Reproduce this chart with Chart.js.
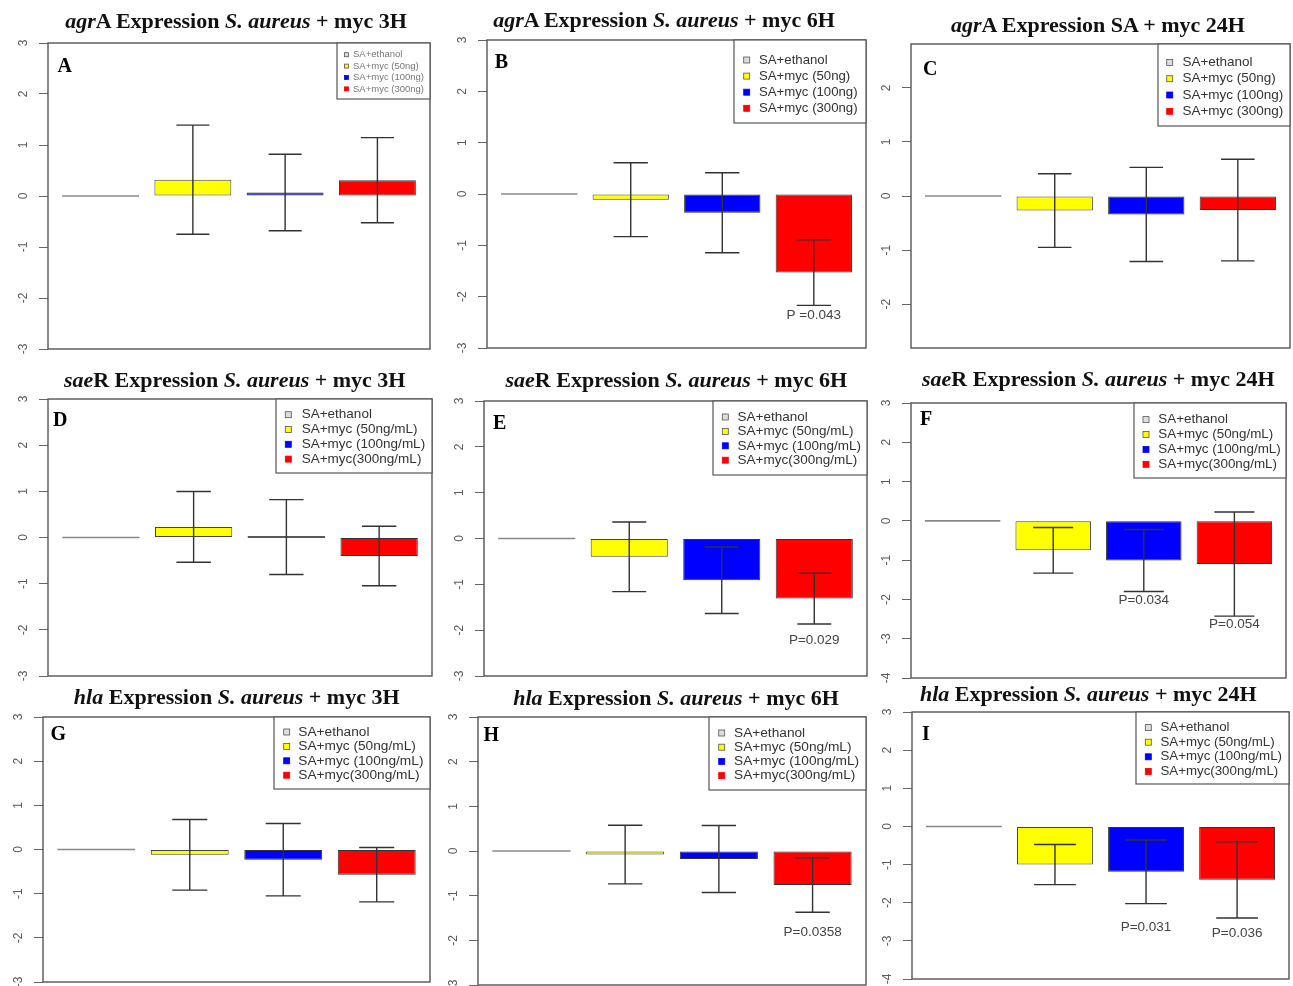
<!DOCTYPE html>
<html><head><meta charset="utf-8">
<script src="https://cdn.jsdelivr.net/npm/chart.js@4.4.0/dist/chart.umd.min.js"></script>
<style>
html,body{margin:0;padding:0;background:#fff;}
body{width:1293px;height:986px;position:relative;overflow:hidden;}
canvas{position:absolute;}
.title{position:absolute;width:600px;text-align:center;font:bold 22px/22px "Liberation Serif","Times New Roman",serif;color:#111;white-space:nowrap;}
</style></head><body>
<script>
// ---------- data ----------
const labelsNg = ["SA+ethanol", "SA+myc (50ng)", "SA+myc (100ng)", "SA+myc (300ng)"];
const labelsMl = ["SA+ethanol", "SA+myc (50ng/mL)", "SA+myc (100ng/mL)", "SA+myc(300ng/mL)"];
const barColors = ["#ffffff", "#ffff00", "#0000ff", "#ff0000"];

const titleA = "<i>agr</i>A Expression <i>S. aureus</i> + myc 3H";
const titleB = "<i>agr</i>A Expression <i>S. aureus</i> + myc 6H";
const titleC = "<i>agr</i>A Expression SA + myc 24H";
const titleD = "<i>sae</i>R Expression <i>S. aureus</i> + myc 3H";
const titleE = "<i>sae</i>R Expression <i>S. aureus</i> + myc 6H";
const titleF = "<i>sae</i>R Expression <i>S. aureus</i> + myc 24H";
const titleG = "<i>hla</i> Expression <i>S. aureus</i> + myc 3H";
const titleH = "<i>hla</i> Expression <i>S. aureus</i> + myc 6H";
const titleI = "<i>hla</i> Expression <i>S. aureus</i> + myc 24H";

const agrA3H  = [0, 0.32, 0.07, 0.31];   const agrA3H_sd  = [0, 1.07, 0.75, 0.835];
const agrA6H  = [0, -0.11, -0.365, -1.53]; const agrA6H_sd = [0, 0.72, 0.78, 0.64];
const agrA24H = [0, -0.27, -0.34, -0.26]; const agrA24H_sd = [0, 0.68, 0.87, 0.94];
const saeR3H  = [0, 0.23, 0.01, -0.40];  const saeR3H_sd  = [0, 0.765, 0.81, 0.645];
const saeR6H  = [0, -0.40, -0.91, -1.31]; const saeR6H_sd = [0, 0.76, 0.725, 0.555];
const saeR24H = [0, -0.75, -1.01, -1.10]; const saeR24H_sd = [0, 0.58, 0.79, 1.325];
const hla3H   = [0, -0.12, -0.23, -0.57]; const hla3H_sd   = [0, 0.80, 0.82, 0.615];
const hla6H   = [0, -0.08, -0.18, -0.76]; const hla6H_sd   = [0, 0.655, 0.75, 0.61];
const hla24H  = [0, -1.00, -1.19, -1.40]; const hla24H_sd  = [0, 0.525, 0.835, 1.0];

const pNone = [null, null, null, null];
const pB = [null, null, null, "P =0.043"];
const pE = [null, null, null, "P=0.029"];
const pF = [null, null, "P=0.034", "P=0.054"];
const pH = [null, null, null, "P=0.0358"];
const pI = [null, null, "P=0.031", "P=0.036"];

// ---------- panels (layout/style) ----------
const panels = [
  {letter:"A", title:titleA, tx:236, tb:28.3, frame:[48,43,430,349], ymin:-3, ymax:3, values:agrA3H, sd:agrA3H_sd, labels:labelsNg, pvals:pNone, pOff:[0,0,0,0], cap:0.43,
   leg:{w:93,h:56,fs:9.5,y0:11.7,dy:11.4,mx:9.4,tx:16,ms:4,col:"#777"}, lx:9.5, ly:23.7},
  {letter:"B", title:titleB, tx:664, tb:27.5, frame:[487,40,866,348], ymin:-3, ymax:3, values:agrA6H, sd:agrA6H_sd, labels:labelsNg, pvals:pB, pOff:[0,0,0,9.5], cap:0.45,
   leg:{w:132,h:83,fs:13.2,y0:20,dy:16.1,mx:12.7,tx:25,ms:6,col:"#333"}, lx:7.7, ly:22.7},
  {letter:"C", title:titleC, tx:1098, tb:32.3, frame:[911,44,1290,348], ymin:-2.81, ymax:2.81, values:agrA24H, sd:agrA24H_sd, labels:labelsNg, pvals:pNone, pOff:[0,0,0,0], cap:0.44,
   leg:{w:132,h:82,fs:13.5,y0:18.4,dy:16.3,mx:11.7,tx:24.4,ms:6,col:"#333"}, lx:12, ly:25.7},
  {letter:"D", title:titleD, tx:234.7, tb:387.3, frame:[48,399,432,676], ymin:-3, ymax:3, values:saeR3H, sd:saeR3H_sd, labels:labelsMl, pvals:pNone, pOff:[0,0,0,0], cap:0.445,
   leg:{w:156,h:74,fs:13.5,y0:15.7,dy:14.8,mx:12.3,tx:25.7,ms:6,col:"#333"}, lx:5, ly:22.3},
  {letter:"E", title:titleE, tx:676.3, tb:387.3, frame:[484,401,867,676], ymin:-3, ymax:3, values:saeR6H, sd:saeR6H_sd, labels:labelsMl, pvals:pE, pOff:[0,0,0,16.7], cap:0.44,
   leg:{w:154,h:74,fs:13.5,y0:16,dy:14.4,mx:12.3,tx:24.6,ms:6,col:"#333"}, lx:9, ly:22.6},
  {letter:"F", title:titleF, tx:1098.3, tb:386.7, frame:[911,403,1286,678], ymin:-4, ymax:3, values:saeR24H, sd:saeR24H_sd, labels:labelsMl, pvals:pF, pOff:[0,0,8.4,8.4], cap:0.53,
   leg:{w:152,h:75,fs:13.4,y0:16.6,dy:14.9,mx:12,tx:24.3,ms:6,col:"#333"}, lx:9, ly:17.3},
  {letter:"G", title:titleG, tx:236.7, tb:704.3, frame:[43,717,430,982], ymin:-3, ymax:3, values:hla3H, sd:hla3H_sd, labels:labelsMl, pvals:pNone, pOff:[0,0,0,0], cap:0.45,
   leg:{w:156,h:72,fs:13.7,y0:15,dy:14.4,mx:12.7,tx:24.3,ms:6,col:"#333"}, lx:7.4, ly:17.6},
  {letter:"H", title:titleH, tx:676, tb:705, frame:[478,717,866,985], ymin:-3, ymax:3, values:hla6H, sd:hla6H_sd, labels:labelsMl, pvals:pH, pOff:[0,0,0,20.4], cap:0.44,
   leg:{w:157,h:73,fs:13.7,y0:16,dy:14.2,mx:12.7,tx:25,ms:6,col:"#333"}, lx:5.6, ly:18.7},
  {letter:"I", title:titleI, tx:1088.3, tb:701, frame:[912,712,1289,979], ymin:-4, ymax:3, values:hla24H, sd:hla24H_sd, labels:labelsMl, pvals:pI, pOff:[0,0,23.6,15.7], cap:0.55,
   leg:{w:153,h:72,fs:13.3,y0:15.6,dy:14.6,mx:12.3,tx:24.4,ms:6,col:"#333"}, lx:10, ly:22.6}
];

const SANS = "'Liberation Sans', Arial, sans-serif";
const SERIF = "'Liberation Serif', 'Times New Roman', serif";

function makePanel(p) {
  const AX = 46, PT = 16, PR = 6, PB = 16;
  const [l, t, r, b] = p.frame;
  const W = AX + (r - l) + PR, H = PT + (b - t) + PB;
  const cv = document.createElement("canvas");
  cv.width = W; cv.height = H;
  cv.style.left = (l - AX) + "px"; cv.style.top = (t - PT) + "px";
  cv.style.width = W + "px"; cv.style.height = H + "px";
  document.body.appendChild(cv);

  const tdiv = document.createElement("div");
  tdiv.className = "title";
  tdiv.innerHTML = p.title;
  tdiv.style.left = (p.tx - 300) + "px";
  tdiv.style.top = (p.tb - 18.4) + "px";
  document.body.appendChild(tdiv);

  const plugin = {
    id: "rpanel",
    afterDatasetsDraw(chart) {
      const ctx = chart.ctx, ys = chart.scales.y, meta = chart.getDatasetMeta(0);
      ctx.save();
      meta.data.forEach((bar, i) => {
        const w = bar.width;
        if (Math.abs(bar.base - bar.y) < 1.5) {
          ctx.strokeStyle = i === 0 ? "#888" : "#222";
          ctx.lineWidth = 1.6;
          ctx.beginPath(); ctx.moveTo(bar.x - w / 2, bar.y); ctx.lineTo(bar.x + w / 2, bar.y); ctx.stroke();
        }
        const e = p.sd[i];
        if (!e) return;
        const yT = ys.getPixelForValue(p.values[i] + e), yB = ys.getPixelForValue(p.values[i] - e);
        const cw = w * p.cap / 2;
        ctx.strokeStyle = "#333"; ctx.lineWidth = 1.4;
        ctx.beginPath();
        ctx.moveTo(bar.x, yT); ctx.lineTo(bar.x, yB);
        ctx.moveTo(bar.x - cw, yT); ctx.lineTo(bar.x + cw, yT);
        ctx.moveTo(bar.x - cw, yB); ctx.lineTo(bar.x + cw, yB);
        ctx.stroke();
        if (p.pvals[i]) {
          ctx.fillStyle = "#444"; ctx.font = "13.5px " + SANS;
          ctx.textAlign = "center"; ctx.textBaseline = "middle";
          ctx.fillText(p.pvals[i], bar.x, yB + p.pOff[i]);
        }
      });
      ctx.restore();
    },
    afterDraw(chart) {
      const ctx = chart.ctx, a = chart.chartArea;
      ctx.save();
      ctx.strokeStyle = "#555"; ctx.lineWidth = 1.4;
      ctx.strokeRect(a.left, a.top, a.right - a.left, a.bottom - a.top);
      // panel letter
      ctx.fillStyle = "#000"; ctx.font = "bold 20px " + SERIF;
      ctx.textAlign = "left"; ctx.textBaseline = "middle";
      ctx.fillText(p.letter, a.left + p.lx, a.top + p.ly);
      // legend
      const g = p.leg, bx = a.right - g.w, by = a.top;
      ctx.fillStyle = "#fff"; ctx.fillRect(bx, by, g.w, g.h);
      ctx.strokeStyle = "#555"; ctx.lineWidth = 1.2;
      ctx.strokeRect(bx, by, g.w, g.h);
      ctx.font = g.fs + "px " + SANS; ctx.textBaseline = "middle"; ctx.textAlign = "left";
      p.labels.forEach((lab, i) => {
        const cy = by + g.y0 + i * g.dy, cx = bx + g.mx;
        ctx.fillStyle = i === 0 ? "#ddd" : barColors[i];
        ctx.fillRect(cx - g.ms / 2, cy - g.ms / 2, g.ms, g.ms);
        ctx.strokeStyle = i < 2 ? "#555" : barColors[i]; ctx.lineWidth = 0.8;
        ctx.strokeRect(cx - g.ms / 2, cy - g.ms / 2, g.ms, g.ms);
        ctx.fillStyle = g.col;
        ctx.fillText(lab, bx + g.tx, cy);
      });
      ctx.restore();
    }
  };

  new Chart(cv, {
    type: "bar",
    data: {
      datasets: [{
        label: p.letter,
        data: p.values.map((v, i) => ({ x: i, y: v })),
        backgroundColor: barColors,
        borderColor: ["#888", "#444", "#333", "#333"],
        borderWidth: 1,
        borderSkipped: false,
        barPercentage: 1 / 1.2,
        categoryPercentage: 1
      }]
    },
    options: {
      responsive: false, animation: false, devicePixelRatio: 1,
      layout: { padding: { left: 0, top: PT, right: PR, bottom: PB }, autoPadding: false },
      plugins: { legend: { display: false }, tooltip: { enabled: false } },
      scales: {
        x: { type: "linear", min: -0.57, max: 3.57, offset: false, grid: { offset: false }, display: false,
             ticks: { stepSize: 1, includeBounds: false } },
        y: {
          min: p.ymin, max: p.ymax,
          ticks: { stepSize: 1, includeBounds: false, minRotation: 90, maxRotation: 90, crossAlign: "center",
                   padding: 9.5, color: "#5a5a5a", font: { family: SANS, size: 12 } },
          grid: { drawOnChartArea: false, drawTicks: true, tickLength: 9, color: "#666", lineWidth: 1 },
          border: { display: false },
          afterFit(s) { s.width = AX; s.paddingTop = 0; s.paddingBottom = 0; s.paddingLeft = 0; s.paddingRight = 0; }
        }
      }
    },
    plugins: [plugin]
  });
}

panels.forEach(makePanel);
</script>
</body></html>
